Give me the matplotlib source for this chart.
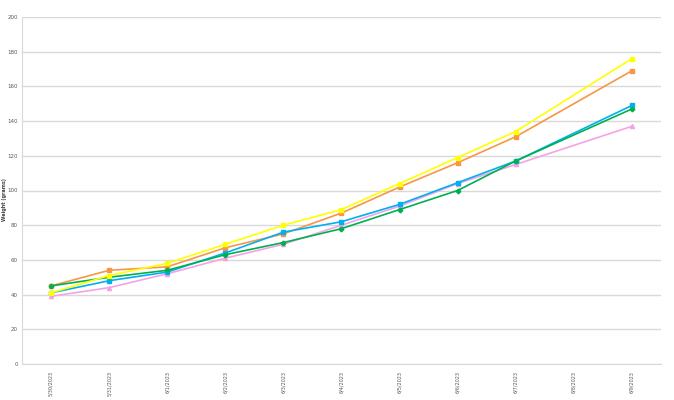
import matplotlib.pyplot as plt

dates = ["5/30/2023", "5/31/2023", "6/1/2023", "6/2/2023", "6/3/2023", "6/4/2023",
         "6/5/2023", "6/6/2023", "6/7/2023", "6/8/2023", "6/9/2023"]
# no measurement on 6/8
data_idx = [0, 1, 2, 3, 4, 5, 6, 7, 8, 10]

orange = [45, 54, 56, 67, 75, 87, 102, 116, 131, 169]
yellow = [41, 51, 58, 69, 80, 89, 104, 119, 134, 176]
blue = [41, 48, 53, 64, 76, 82, 92, 104.5, 117, 149]
green = [45, 50, 54, 63, 70, 78, 89, 100, 117, 147]
pink = [39, 44, 52, 61, 69, 80, 91, 104, 115, 137]

fig = plt.figure(figsize=(6.74, 4), dpi=100)
ax = fig.add_axes([0.0326, 0.09, 0.948, 0.8675])

ax.plot(data_idx, orange, color="#F79646", marker="s", markersize=3, linewidth=1.2, zorder=3)
ax.plot(data_idx, yellow, color="#FFFF00", marker="s", markersize=3, linewidth=1.2, zorder=4)
ax.plot(data_idx, blue, color="#00B0F0", marker="s", markersize=3, linewidth=1.2, zorder=3)
ax.plot(data_idx, green, color="#00B050", marker="P", markersize=3, linewidth=1.2, zorder=3)
ax.plot(data_idx, pink, color="#F4A3E6", marker="^", markersize=3, linewidth=1.2, zorder=2)

ax.set_xlim(-0.5, 10.5)
ax.set_ylim(0, 200)
ax.set_yticks(range(0, 201, 20))
ax.set_xticks(range(len(dates)))
ax.set_xticklabels(dates, rotation=90, fontsize=3.5, color="#595959")
ax.tick_params(axis="y", labelsize=4, colors="#595959", length=0, pad=3)
ax.tick_params(axis="x", length=0, pad=5)
ax.grid(axis="y", color="#D9D9D9", linewidth=1)
ax.set_axisbelow(True)

for s in ["top", "right"]:
    ax.spines[s].set_visible(False)
ax.spines["left"].set_color("#D9D9D9")
ax.spines["bottom"].set_color("#D9D9D9")

fig.text(5 / 674, 0.5, "Weight (grams)", rotation=90, fontsize=3.5, fontweight="bold",
         color="#404040", ha="center", va="center")

plt.savefig("out.png", dpi=100)
